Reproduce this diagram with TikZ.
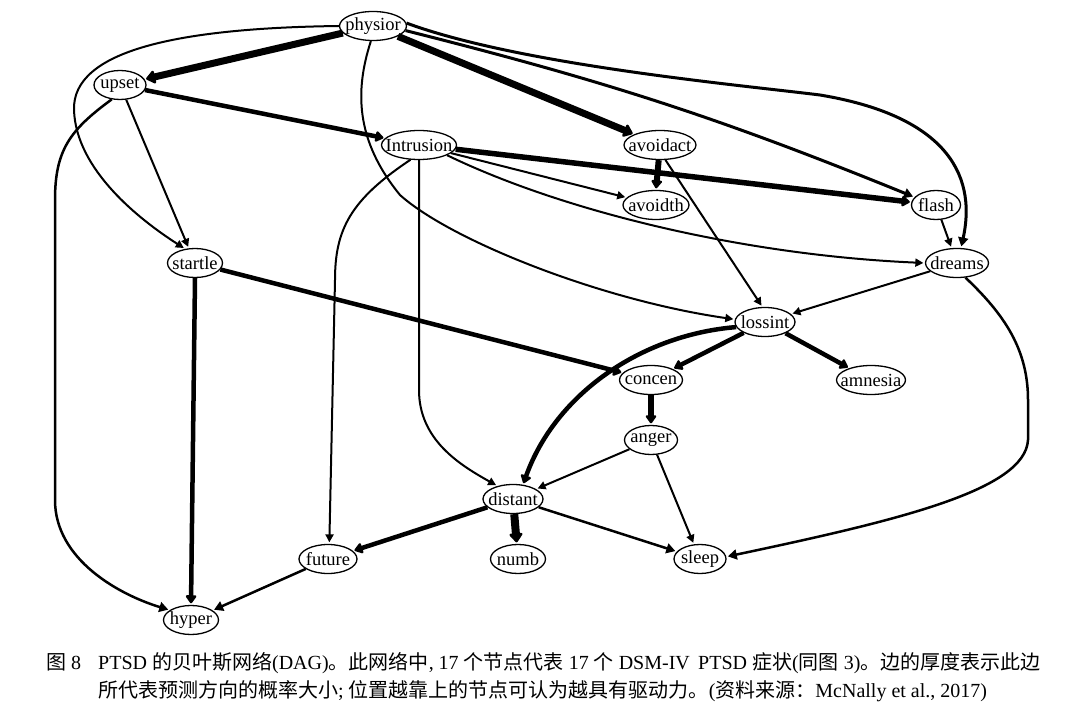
\documentclass[tikz,border=0pt]{standalone}
\usepackage{fontspec}
\setmainfont{Liberation Serif}
\newfontfamily\cjk{Noto Sans CJK SC}
\usetikzlibrary{shapes.geometric,arrows.meta}
\tikzset{
  sym/.style={ellipse, draw, line width=1.3pt, inner sep=0pt, minimum height=29pt,
    font=\fontsize{18.5}{19}\selectfont},
  ethin/.style={line width=2pt, -{Triangle[length=8pt,width=8pt]}, shorten >=1.5pt},
  emid/.style={line width=3pt, -{Triangle[length=9pt,width=10pt]}, shorten >=1.5pt},
  ethick/.style={line width=4.5pt, -{Triangle[length=9pt,width=12pt,round]}, shorten >=1.5pt},
  evthick/.style={line width=7pt, -{Triangle[length=10pt,width=15pt,round]}, shorten >=1.5pt},
  captext/.style={anchor=base west, inner sep=0pt, font=\fontsize{20}{24}\selectfont}
}
\newcommand{\lbl}[1]{\makebox[0pt]{#1}}
\begin{document}
\begin{tikzpicture}[x=1pt,y=-1pt]
\useasboundingbox[fill=white] (0,0) rectangle (1082,714);
% nodes
\node[sym, minimum width=67pt] (physior) at (373,26) {\lbl{physior}};
\node[sym, minimum width=52pt] (upset) at (120,85) {\lbl{upset}};
\node[sym, minimum width=75pt] (Intrusion) at (419,145) {\lbl{Intrusion}};
\node[sym, minimum width=72pt] (avoidact) at (660,145) {\lbl{avoidact}};
\node[sym, minimum width=66pt] (avoidth) at (656,205) {\lbl{avoidth}};
\node[sym, minimum width=49pt] (flash) at (936,205) {\lbl{flash}};
\node[sym, minimum width=55pt] (startle) at (195,263) {\lbl{startle}};
\node[sym, minimum width=63pt] (dreams) at (957,263) {\lbl{dreams}};
\node[sym, minimum width=60pt] (lossint) at (765,322) {\lbl{lossint}};
\node[sym, minimum width=63pt] (concen) at (651,380) {\lbl{concen}};
\node[sym, minimum width=69pt] (amnesia) at (871,380) {\lbl{amnesia}};
\node[sym, minimum width=53pt] (anger) at (651,440) {\lbl{anger}};
\node[sym, minimum width=60pt] (distant) at (513,499) {\lbl{distant}};
\node[sym, minimum width=58pt] (future) at (328,559) {\lbl{future}};
\node[sym, minimum width=55pt] (numb) at (518,559) {\lbl{numb}};
\node[sym, minimum width=52pt] (sleep) at (700,559) {\lbl{sleep}};
\node[sym, minimum width=55pt] (hyper) at (191,620) {\lbl{hyper}};
% edges from physior
\draw[evthick] (physior) -- (upset);
\draw[ethin] (physior.west) .. controls (180,28) and (72,50) .. (74,110) .. controls (76,170) and (140,220) .. (startle.125);
\draw[ethin] (physior.262) .. controls (355,90) and (355,140) .. (400,195) .. controls (450,240) and (600,300) .. (lossint.175);
\draw[evthick] (physior) -- (avoidact);
\draw[emid] (physior.-8) to[bend left=4] (flash.160);
\draw[emid] (physior.5) .. controls (520,65) and (740,85) .. (820,95) .. controls (940,115) and (978,170) .. (dreams.75);
% upset
\draw[ethick] (upset) -- (Intrusion);
\draw[ethin] (upset) -- (startle);
\draw[emid, line width=2.5pt] (upset.240) .. controls (70,130) and (55,150) .. (55,200) -- (55,500) .. controls (55,560) and (120,595) .. (hyper.155);
% Intrusion
\draw[ethick, line width=5.5pt] (Intrusion) -- (flash);
\draw[ethin] (Intrusion) -- (avoidth);
\draw[ethin] (Intrusion.-20) .. controls (560,210) and (740,255) .. (dreams.west);
\draw[ethin] (Intrusion.240) .. controls (350,200) and (335,230) .. (335,280) -- (future.85);
\draw[ethin] (Intrusion.270) -- (419,390) .. controls (419,440) and (460,465) .. (distant.140);
% avoidact
\draw[ethick, line width=6pt] (avoidact.265) -- (avoidth.north);
\draw[ethin] (avoidact.-70) -- (lossint.100);
% flash, dreams
\draw[ethin] (flash.-70) -- (dreams.110);
\draw[ethin] (dreams) -- (lossint);
\draw[emid, line width=2.5pt] (dreams.-60) .. controls (1005,315) and (1028,350) .. (1028,400) -- (1028,440) .. controls (1025,490) and (900,520) .. (sleep.5);
% startle
\draw[ethick] (startle.south) -- (hyper.north);
\draw[ethick] (startle) -- (concen);
% lossint
\draw[ethick] (lossint) -- (concen);
\draw[ethick] (lossint) -- (amnesia);
\draw[ethick] (lossint.190) .. controls (640,335) and (555,395) .. (distant.55);
% concen, anger
\draw[ethick, line width=6pt] (concen) -- (anger);
\draw[ethin] (anger) -- (distant);
\draw[ethin] (anger) -- (sleep);
% distant
\draw[ethick] (distant) -- (future);
\draw[evthick, line width=8pt] (distant) -- (numb);
\draw[emid, line width=2.5pt] (distant) -- (sleep);
\draw[emid, line width=2.5pt] (future) -- (hyper);
% caption
\node[captext] (c0) at (46,669) {{\cjk 图} 8};
\node[captext] (c1) at (98,669) {PTSD {\cjk 的贝叶斯网络}(DAG){\cjk 。此网络中}, 17 {\cjk 个节点代表} 17 {\cjk 个} DSM-IV\, PTSD {\cjk 症状}({\cjk 同图} 3){\cjk 。边的厚度表示此边}};
\node[captext] (c2) at (98,697) {{\cjk 所代表预测方向的概率大小}; {\cjk 位置越靠上的节点可认为越具有驱动力。}({\cjk 资料来源：}McNally et al., 2017)};
\end{tikzpicture}
\end{document}
